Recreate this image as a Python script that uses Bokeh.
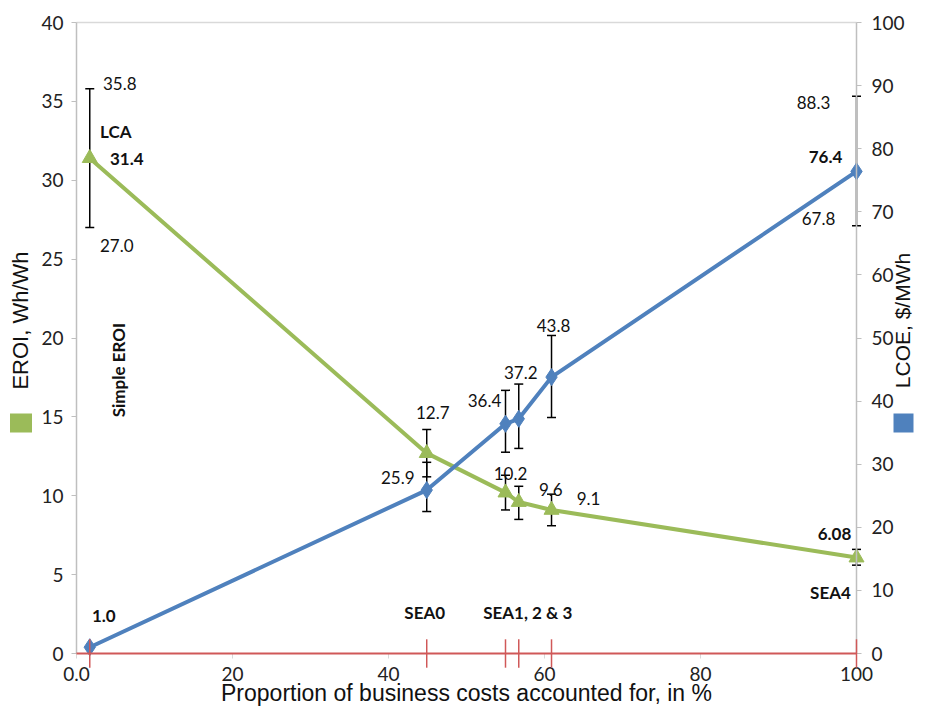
import math
from bokeh.plotting import figure
from bokeh.models import (ColumnDataSource, LinearAxis, Range1d, Whisker, TeeHead,
                          Label, FixedTicker)
from bokeh.embed import file_html
from bokeh.resources import INLINE

# ---------------- data ----------------
stages = ["LCA", "SEA0", "SEA1", "SEA2", "SEA3", "SEA4"]
share = [1.7, 44.9, 55.0, 56.7, 60.9, 100.0]          # % of business costs accounted for
eroi = [31.4, 12.7, 10.2, 9.6, 9.1, 6.08]               # Wh/Wh
eroi_hi = [35.8, 14.2, 11.3, 10.6, 10.1, 6.6]
eroi_lo = [27.0, 11.2, 9.1, 8.5, 8.1, 5.6]
lcoe = [1.0, 25.9, 36.4, 37.2, 43.8, 76.4]              # $/MWh
lcoe_hi = [None, 30.3, 41.7, 42.7, 50.4, 88.3]
lcoe_lo = [None, 22.5, 31.9, 32.5, 37.4, 67.8]
eroi_text = ["31.4", "12.7", "10.2", "9.6", "9.1", "6.08"]
lcoe_text = ["1.0", "25.9", "36.4", "37.2", "43.8", "76.4"]
x_ticks = [0, 20, 40, 60, 80, 100]
eroi_ticks = [0, 5, 10, 15, 20, 25, 30, 35, 40]
lcoe_ticks = [0, 10, 20, 30, 40, 50, 60, 70, 80, 90, 100]

# ---------------- layout (pixels on the canvas) ----------------
W, H = 914, 708
PL, PR, PT, PB = 76, 856, 22, 653          # plot area edges
x0, x1 = x_ticks[0], x_ticks[-1]
e0, e1 = eroi_ticks[0], eroi_ticks[-1]
l0, l1 = lcoe_ticks[0], lcoe_ticks[-1]
sx = (PR - PL) / (x1 - x0)
sy = (PB - PT) / (e1 - e0)
sy2 = (PB - PT) / (l1 - l0)

def X(px):
    return x0 + (px - PL) / sx

def Y(py):
    return e0 + (PB - py) / sy

# ---------------- styles ----------------
GREEN = "#9BBB59"
BLUE = "#4F81BD"
RED = "#D05858"
GREY = "#BFBFBF"
NUM_FONT = "Lato"
TITLE_FONT = "Liberation Sans"
INK = "#111111"

p = figure(width=W, height=H, output_backend="svg", toolbar_location=None,
           x_range=Range1d(X(0), X(W)), y_range=Range1d(Y(H), Y(0)),
           x_axis_location=None, y_axis_location=None,
           min_border=0, min_border_left=0, min_border_right=0,
           min_border_top=0, min_border_bottom=0)
p.extra_y_ranges = {"lcoe": Range1d(l0 - (H - PB) / sy2, l1 + PT / sy2)}
p.xgrid.visible = False
p.ygrid.visible = False
p.outline_line_color = None
p.background_fill_color = "white"
p.border_fill_color = "white"

def style_axis(ax, ticks):
    ax.ticker = FixedTicker(ticks=ticks)
    ax.axis_line_color = GREY
    ax.axis_line_width = 1.5
    ax.major_tick_line_color = GREY
    ax.major_tick_out = 5
    ax.major_tick_in = 0
    ax.minor_tick_line_color = None
    ax.major_label_text_font = NUM_FONT
    ax.major_label_text_font_size = "19px"
    ax.major_label_text_color = "#222222"

xax = LinearAxis(fixed_location=e0, bounds=(x0, x1))
style_axis(xax, x_ticks)
xax.major_label_overrides = {0: "0.0"}
xax.major_label_standoff = 8
xax.axis_line_color = None
xax.major_tick_line_color = "#D9D9D9"
p.add_layout(xax, "below")

lax = LinearAxis(fixed_location=x0, bounds=(e0, e1))
style_axis(lax, eroi_ticks)
lax.major_label_standoff = 8
p.add_layout(lax, "left")

rax = LinearAxis(y_range_name="lcoe", fixed_location=x1, bounds=(l0, l1))
style_axis(rax, lcoe_ticks)
rax.major_label_standoff = 10
p.add_layout(rax, "right")

# top frame line
p.segment(x0=[x0], x1=[x1], y0=[e1], y1=[e1], line_color="#D9D9D9", line_width=1.5)

# red baseline with tick marks at each scenario
p.segment(x0=[x0], x1=[x1], y0=[e0], y1=[e0], line_color=RED, line_width=2, level="overlay")
p.segment(x0=share, x1=share, y0=[e0 - 0.9] * len(share), y1=[e0 + 0.9] * len(share),
          line_color=RED, line_width=1.5, level="overlay")

# error bars
src_e = ColumnDataSource(dict(x=share, hi=eroi_hi, lo=eroi_lo))
p.add_layout(Whisker(source=src_e, base="x", upper="hi", lower="lo", dimension="height",
                     line_color="black", line_width=1.5,
                     upper_head=TeeHead(size=9, line_color="black", line_width=1.5),
                     lower_head=TeeHead(size=9, line_color="black", line_width=1.5)))
idx = [i for i in range(len(share)) if lcoe_hi[i] is not None]
src_l = ColumnDataSource(dict(x=[share[i] for i in idx], hi=[lcoe_hi[i] for i in idx],
                              lo=[lcoe_lo[i] for i in idx]))
p.add_layout(Whisker(source=src_l, base="x", upper="hi", lower="lo", dimension="height",
                     y_range_name="lcoe", line_color="black", line_width=1.5,
                     upper_head=TeeHead(size=9, line_color="black", line_width=1.5),
                     lower_head=TeeHead(size=9, line_color="black", line_width=1.5)))

# series
p.line(share, eroi, line_color=GREEN, line_width=4)
p.scatter(share, eroi, marker="triangle", size=15, fill_color=GREEN, line_color=GREEN)
p.line(share, lcoe, line_color=BLUE, line_width=4, y_range_name="lcoe")
p.scatter(share, lcoe, marker="diamond", size=17, fill_color=BLUE, line_color=BLUE,
          y_range_name="lcoe")

# value labels (pixel offsets: dx right, dy down)
eroi_off = [(37, 1), (6, -41), (5, -19), (32, -13), (37, -11), (-22, -24)]
eroi_bold = [True, False, False, False, False, True]
lcoe_off = [(14, -31), (-29, -13), (-21, -23), (2, -46), (2, -52), (-31, -14)]
lcoe_bold = [True, False, False, False, False, True]

def add_label(x, y, text, dx, dy, bold, rng="default", size="17px", font=NUM_FONT, angle=0):
    p.add_layout(Label(x=x, y=y, text=text, x_offset=dx, y_offset=-dy, y_range_name=rng,
                       text_font=font, text_font_size=size, angle=angle,
                       text_font_style="bold" if bold else "normal",
                       text_align="center", text_baseline="middle", text_color=INK))

for i in range(len(share)):
    add_label(share[i], eroi[i], eroi_text[i], *eroi_off[i], eroi_bold[i])
    add_label(share[i], lcoe[i], lcoe_text[i], *lcoe_off[i], lcoe_bold[i], rng="lcoe")

# error-range labels at the end points
add_label(share[0], eroi_hi[0], f"{eroi_hi[0]:.1f}", 30, -5, False)
add_label(share[0], eroi_lo[0], f"{eroi_lo[0]:.1f}", 27, 18, False)
add_label(share[5], lcoe_hi[5], f"{lcoe_hi[5]:.1f}", -43, 6, False, rng="lcoe")
add_label(share[5], lcoe_lo[5], f"{lcoe_lo[5]:.1f}", -38, -7, False, rng="lcoe")

# scenario annotations
add_label(share[0], eroi[0], "LCA", 26, -27, True)
add_label(share[0], eroi[0], "Simple EROI", 29, 212, True, size="17px", angle=math.pi / 2)
add_label(share[1], e0, "SEA0", -2, -41, True)
add_label(share[3], e0, "SEA1, 2 & 3", 9, -41, True)
add_label(share[5], e0, "SEA4", -26, -61, True)

# axis titles with legend squares
add_label(X(466), Y(692), "Proportion of business costs accounted for, in %", 0, 0, False,
          size="23px", font=TITLE_FONT)
add_label(X(20), Y(320), "EROI, Wh/Wh", 0, 0, False, size="22px", font=TITLE_FONT,
          angle=math.pi / 2)
add_label(X(902), Y(320), "LCOE, $/MWh", 0, 0, False, size="21px", font=TITLE_FONT,
          angle=math.pi / 2)
p.rect(x=[X(20.5), X(903)], y=[Y(422.5)] * 2, width=[22 / sx, 20 / sx], height=[19 / sy] * 2,
       fill_color=[GREEN, BLUE], line_color=None)

open("out.html", "w").write(file_html(p, INLINE))
